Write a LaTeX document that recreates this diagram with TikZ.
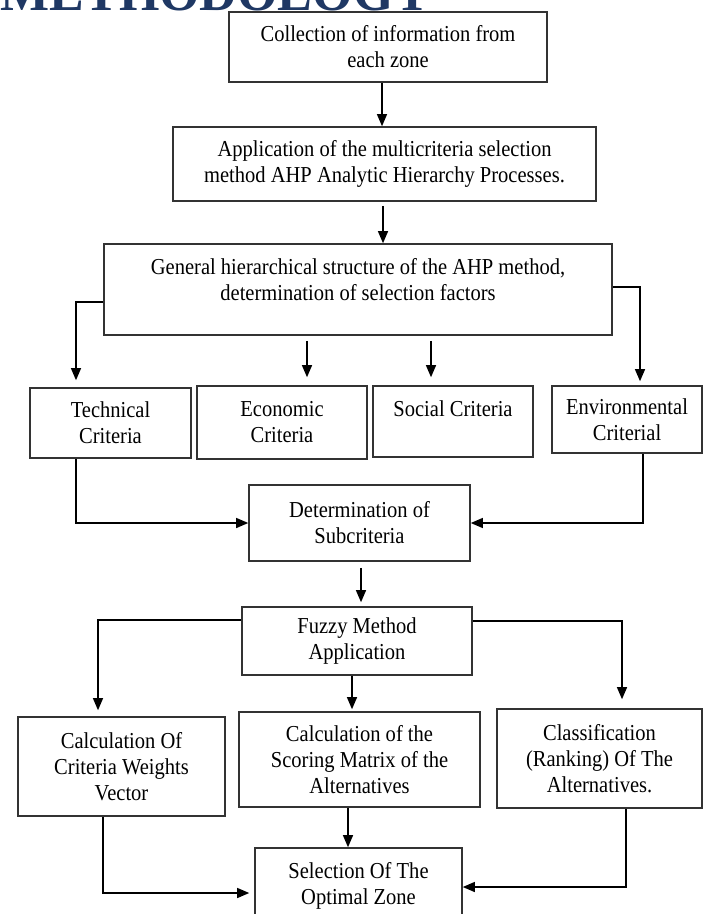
\documentclass[tikz,border=0pt]{standalone}
\usepackage{fontspec}
\setmainfont{Liberation Serif}
\newfontfamily\boxfont{Liberation Serif}[FakeStretch=0.9]
\usetikzlibrary{arrows.meta}
\definecolor{headblue}{RGB}{31,56,100}

\begin{document}
\begin{tikzpicture}[x=0.5pt, y=-0.5pt, line width=0.6pt,
  >={Triangle[width=5pt,length=6pt]},
  box/.style={draw=black!80, line width=0.8pt, align=center, inner sep=0pt,
    font=\boxfont\fontsize{11.4}{13}\selectfont}]
\useasboundingbox (0,0) rectangle (703,914);
\clip (0,0) rectangle (703,914);
\node[anchor=base west, inner sep=0pt, text=headblue, font=\bfseries\fontsize{26}{26}\selectfont] (T) at (0,11) {METHODOLOGY};
\node[box, minimum width=159pt, minimum height=35pt] (CI) at (388,47) {Collection of information from\\each zone};
\node[box, minimum width=211.5pt, minimum height=37pt] (AHP) at (384.5,164) {Application of the multicriteria selection\\method AHP Analytic Hierarchy Processes.};
\node[box, minimum width=254pt, minimum height=45.5pt, text depth=10.5pt] (GS) at (358,289.5) {General hierarchical structure of the AHP method,\\determination of selection factors};
\node[box, minimum width=80.5pt, minimum height=35pt] (TC) at (110.5,423) {Technical\\Criteria};
\node[box, minimum width=85pt, minimum height=36.5pt] (EC) at (282,422.5) {Economic\\Criteria};
\node[box, minimum width=80pt, minimum height=35.5pt] (SC) at (453,421.5) {Social Criteria\\\mbox{}};
\node[box, minimum width=75pt, minimum height=33.5pt] (EnC) at (627,419.5) {Environmental\\Criterial};
\node[box, minimum width=110.5pt, minimum height=38pt] (DS) at (359.5,523) {Determination of\\Subcriteria};
\node[box, minimum width=115pt, minimum height=34pt] (FM) at (357,641) {Fuzzy Method\\Application};
\node[box, minimum width=103.5pt, minimum height=49.5pt] (CW) at (121.5,766.5) {Calculation Of\\Criteria Weights\\Vector};
\node[box, minimum width=120.5pt, minimum height=47.5pt] (SM) at (359.5,759.5) {Calculation of the\\Scoring Matrix of the\\Alternatives};
\node[box, minimum width=102.5pt, minimum height=49.5pt] (CR) at (599.5,758.5) {Classification\\(Ranking) Of The\\Alternatives.};
\node[box, minimum width=103.5pt, minimum height=38pt] (SO) at (358.5,886) {Selection Of The\\Optimal Zone};
\draw [->] (CI.south -| 382,0) -- (AHP.north -| 382,0);
\draw [->, shorten <=2pt] (AHP.south -| 383,0) -- (GS.north -| 383,0);
\draw [->, shorten >=3.5pt] (GS.west |- 0,302) -| (TC.north -| 76,0);
\draw [->, shorten <=2.5pt, shorten >=4pt] (GS.south -| 307,0) -- (EC.north -| 307,0);
\draw [->, shorten <=2.5pt, shorten >=4pt] (GS.south -| 431,0) -- (SC.north -| 431,0);
\draw [->, shorten >=2pt] (GS.east |- 0,287) -| (EnC.north -| 640,0);
\draw [->] (TC.south -| 76,0) |- (DS.west);
\draw [->] (EnC.south -| 643,0) |- (DS.east);
\draw [->, shorten <=3pt, shorten >=2pt] (DS.south -| 361,0) -- (FM.north -| 361,0);
\draw [->, shorten >=3pt] (FM.west |- 0,620) -| (CW.north -| 98,0);
\draw [->, shorten >=1pt] (FM.south -| 352,0) -- (SM.north -| 352,0);
\draw [->, shorten >=4.5pt] (FM.east |- 0,621) -| (CR.north -| 622,0);
\draw [->] (SM.south -| 348,0) -- (SO.north -| 348,0);
\draw [->, shorten >=2.5pt] (CW.south -| 103,0) |- (SO.west |- 0,893);
\draw [->] (CR.south -| 626,0) |- (SO.east |- 0,887);
\end{tikzpicture}
\end{document}
